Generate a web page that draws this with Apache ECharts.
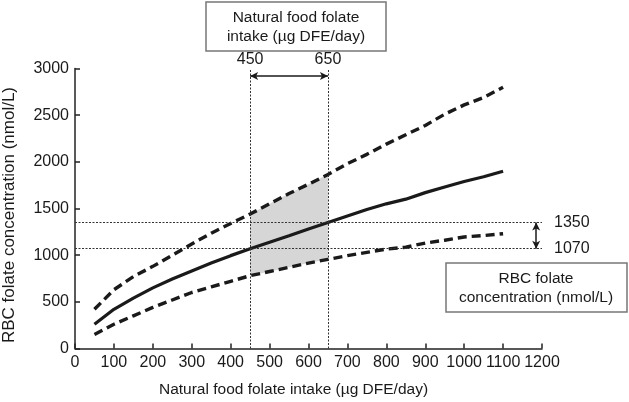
<!DOCTYPE html>
<html>
<head>
<meta charset="utf-8">
<script src="https://cdn.jsdelivr.net/npm/echarts@6/dist/echarts.min.js"></script>
<style>html,body{margin:0;padding:0;background:#fff}#c{width:629px;height:402px}</style>
</head>
<body>
<div id="c"></div>
<script>
// Data
const intake = [50,100,150,200,250,300,350,400,450,500,550,600,650,700,750,800,850,900,950,1000,1050,1100];
const central = [260,420,540,650,745,830,915,995,1068,1138,1208,1280,1350,1420,1490,1550,1600,1670,1730,1790,1840,1900];
const upper = [420,630,770,880,1000,1120,1235,1340,1440,1550,1660,1760,1865,1980,2080,2190,2290,2390,2510,2610,2690,2800];
const lower = [150,260,350,440,520,600,660,720,780,825,870,915,955,995,1030,1065,1085,1130,1160,1195,1210,1230];
const intakeRange = [450, 650];
const rbcRange = [1070, 1350];
const xTicks = [0, 1200, 100];
const yTicks = [0, 3000, 500];
const xName = 'Natural food folate intake (µg DFE/day)';
const yName = 'RBC folate concentration (nmol/L)';
const topBoxText = 'Natural food folate\nintake (µg DFE/day)';
const rightBoxText = 'RBC folate\nconcentration (nmol/L)';
const arrowY = 2920;
const arrowX = 1185;

const FONT = 'Liberation Sans, Arial, sans-serif';
const INK = '#1a1a1a';

const pair = (ys) => intake.map((x, i) => [x, ys[i]]);
const plain = (v) => String(v);

const chart = echarts.init(document.getElementById('c'), null, {renderer: 'canvas'});
chart.setOption({
  animation: false,
  backgroundColor: '#fff',
  textStyle: {fontFamily: FONT, color: INK},
  grid: {left: 75, right: 87, top: 68.5, bottom: 53.5, containLabel: false, outerBoundsMode: 'none'},
  xAxis: {
    type: 'value', min: xTicks[0], max: xTicks[1], interval: xTicks[2],
    name: xName, nameLocation: 'middle', nameGap: 33,
    nameTextStyle: {fontSize: 15.5, color: INK, fontFamily: FONT, padding: [0, 30, 0, 0]},
    axisLine: {show: true, lineStyle: {color: '#222', width: 1.5}},
    axisTick: {show: true, inside: true, length: 5, lineStyle: {color: '#222', width: 1.5}},
    axisLabel: {fontSize: 16, color: INK, fontFamily: FONT, margin: 6, formatter: plain, showMinLabel: true, showMaxLabel: true, hideOverlap: false},
    splitLine: {show: false}
  },
  yAxis: {
    type: 'value', min: yTicks[0], max: yTicks[1], interval: yTicks[2],
    name: yName, nameLocation: 'middle', nameGap: 57,
    nameTextStyle: {fontSize: 17, color: INK, fontFamily: FONT, padding: [0, 13, 0, 0]},
    axisLine: {show: true, lineStyle: {color: '#222', width: 1.5}},
    axisTick: {show: true, inside: true, length: 5, lineStyle: {color: '#222', width: 1.5}},
    axisLabel: {fontSize: 16, color: INK, fontFamily: FONT, margin: 6, formatter: plain, showMinLabel: true, showMaxLabel: true},
    splitLine: {show: false}
  },
  series: [
    {
      type: 'custom',
      z: 1,
      silent: true,
      data: [[intakeRange[0], 0]],
      renderItem: function (params, api) {
        const pts = [];
        for (let i = 0; i < intake.length; i++) {
          if (intake[i] >= intakeRange[0] && intake[i] <= intakeRange[1]) pts.push(api.coord([intake[i], upper[i]]));
        }
        for (let i = intake.length - 1; i >= 0; i--) {
          if (intake[i] >= intakeRange[0] && intake[i] <= intakeRange[1]) pts.push(api.coord([intake[i], lower[i]]));
        }
        return {type: 'polygon', shape: {points: pts}, style: {fill: '#d6d6d6', stroke: null}};
      }
    },
    {
      type: 'line', z: 3, data: pair(upper), showSymbol: false, symbol: 'none',
      lineStyle: {color: INK, width: 3.4, type: [9, 5]}
    },
    {
      type: 'line', z: 3, data: pair(lower), showSymbol: false, symbol: 'none',
      lineStyle: {color: INK, width: 3.4, type: [9, 5]}
    },
    {
      type: 'line', z: 3, data: pair(central), showSymbol: false, symbol: 'none',
      lineStyle: {color: INK, width: 3.2, type: 'solid'},
      markLine: {
        silent: true, symbol: 'none', animation: false,
        lineStyle: {color: '#333', width: 1, type: [2, 1.5]},
        label: {show: true, position: 'end', fontSize: 16, color: INK, fontFamily: FONT, formatter: '{c}'},
        data: [
          {xAxis: intakeRange[0], label: {distance: 1}},
          {xAxis: intakeRange[1], label: {distance: 1}},
          {yAxis: rbcRange[1], label: {distance: 12}},
          {yAxis: rbcRange[0], label: {distance: 12}}
        ]
      }
    },
    {
      type: 'line', z: 4, data: [], showSymbol: false,
      markLine: {
        silent: true, animation: false,
        symbol: ['arrow', 'arrow'], symbolSize: [6, 8],
        lineStyle: {color: INK, width: 1.5, type: 'solid'},
        label: {show: false},
        data: [
          [{coord: [intakeRange[0], arrowY]}, {coord: [intakeRange[1], arrowY]}],
          [{coord: [arrowX, rbcRange[1]]}, {coord: [arrowX, rbcRange[0]]}]
        ]
      }
    }
  ],
  graphic: [
    {type: 'rect', shape: {x: 206, y: 2, width: 180, height: 49}, style: {fill: '#fff', stroke: '#777', lineWidth: 1.5}},
    {type: 'text', x: 296, y: 27, style: {text: topBoxText, font: '15.5px ' + FONT, fill: INK, align: 'center', verticalAlign: 'middle', lineHeight: 19}},
    {type: 'rect', shape: {x: 446, y: 263, width: 181, height: 49}, style: {fill: '#fff', stroke: '#777', lineWidth: 1.5}},
    {type: 'text', x: 536, y: 288, style: {text: rightBoxText, font: '15.5px ' + FONT, fill: INK, align: 'center', verticalAlign: 'middle', lineHeight: 19}}
  ]
});
</script>
</body>
</html>
